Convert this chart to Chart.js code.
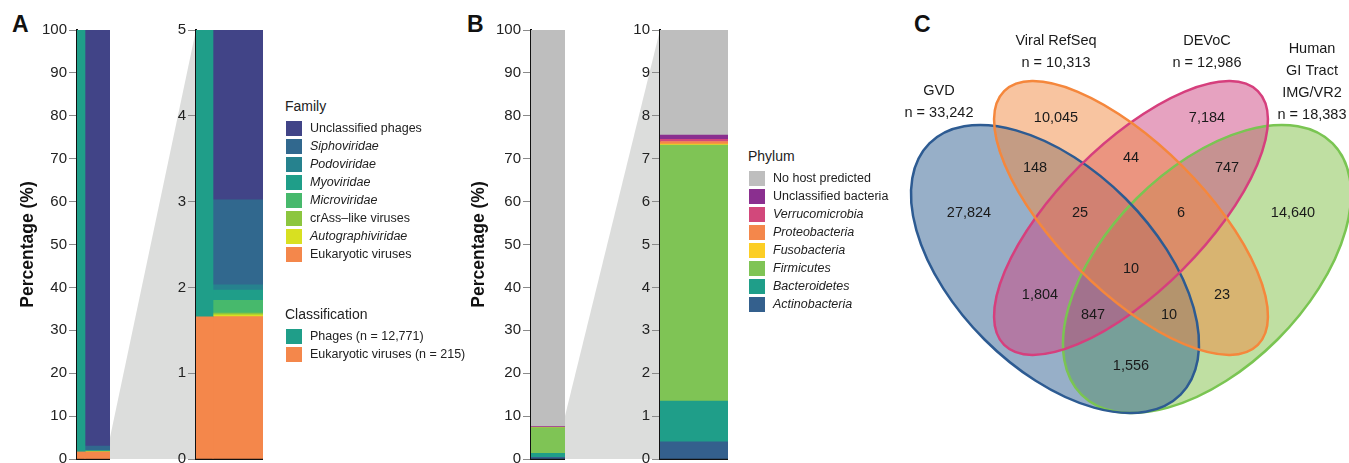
<!DOCTYPE html>
<html>
<head>
<meta charset="utf-8">
<script src="https://cdn.jsdelivr.net/npm/chart.js@4.4.0/dist/chart.umd.min.js"></script>
<style>
  html, body { margin: 0; padding: 0; background: #fff; overflow: hidden; }
  body { width: 1349px; height: 463px; position: relative; font-family: "Liberation Sans", Arial, sans-serif; color: #222; }
  canvas { position: absolute; top: 0; }
  .tag { position: absolute; top: 12px; font-size: 23px; font-weight: bold; line-height: 24px; color: #111; }
  .lh { position: absolute; font-size: 14px; line-height: 20px; }
  .li { position: absolute; font-size: 12.5px; line-height: 18px; white-space: nowrap; }
  .sw { position: absolute; width: 16px; height: 15px; }
</style>
</head>
<body>
<div class="tag" style="left:12px">A</div>
<div class="tag" style="left:467px">B</div>
<div class="tag" style="left:914px">C</div>

<canvas id="aFull" width="110" height="480" style="left:0px"></canvas>
<canvas id="aZoom" width="153" height="480" style="left:110px"></canvas>
<canvas id="bFull" width="115" height="480" style="left:450px"></canvas>
<canvas id="bZoom" width="163" height="480" style="left:565px"></canvas>
<canvas id="venn" width="469" height="463" style="left:880px"></canvas>
<div id="legends"></div>

<script>
// ---- data ----
const familyNames = ['Eukaryotic viruses', 'Autographiviridae', 'crAss\u2013like viruses', 'Microviridae',
                     'Myoviridae', 'Podoviridae', 'Siphoviridae', 'Unclassified phages'];
const familyPct = [1.66, 0.02, 0.02, 0.15, 0.12, 0.06, 0.99, 96.98];
const familyColors = ['#f4874b', '#d8e021', '#8cc63f', '#47b96c', '#1f9e89', '#26828e', '#31688e', '#414487'];
const familyItalic = [false, true, false, true, true, true, true, false];

const classNames = ['Eukaryotic viruses', 'Phages'];
const classCounts = [215, 12771];
const classColors = ['#f4874b', '#1f9e89'];

const phylumNames = ['Actinobacteria', 'Bacteroidetes', 'Firmicutes', 'Fusobacteria',
                     'Proteobacteria', 'Verrucomicrobia', 'Unclassified bacteria', 'No host predicted'];
const phylumPct = [0.40, 0.95, 5.97, 0.02, 0.06, 0.05, 0.10, 92.45];
const phylumColors = ['#34608d', '#1f9e89', '#7fc455', '#fcce25', '#f4874b', '#d2487b', '#8a2f8f', '#bebebe'];
const phylumItalic = [true, true, true, true, true, true, false, false];

const fullTicks = [0, 100, 10];   // min, max, step
const zoomTicksA = [0, 5, 1];
const zoomTicksB = [0, 10, 1];

const vennSetLines = [['GVD'], ['Viral RefSeq'], ['DEVoC'], ['Human', 'GI Tract', 'IMG/VR2']];
const vennSetSizes = [33242, 10313, 12986, 18383];
const vennCounts = [10045, 7184, 148, 44, 747, 27824, 25, 6, 14640, 10, 1804, 23, 847, 10, 1556];

// ---- layout ----
const FONT = '"Liberation Sans", Arial, sans-serif';
const classTotal = classCounts.reduce((s, v) => s + v, 0);
const classPct = classCounts.map(v => v / classTotal * 100);

// venn geometry (units = px around the centre, y downward)
const vennEllipses = [[-76, 0, 177.6, 99.7, 45], [0, -51, 179.4, 73, 45], [0, -51, 179.4, 73, -45], [76, 0, 177.6, 99.7, -45]];
const vennFill = ['rgba(47,95,145,0.5)', 'rgba(241,137,65,0.5)', 'rgba(205,69,129,0.5)', 'rgba(127,191,69,0.5)'];
const vennStroke = ['#2d5b92', '#f5873c', '#d63f7d', '#7ac552'];
const vennOrder = [3, 0, 2, 1];
const vennRegionPos = [[-75, -151], [76, -151], [-96, -101], [0, -111], [96, -101], [-162, -56], [-51, -56],
                       [50, -56], [162, -56], [0, 0], [-91, 26], [91, 26], [-38, 46], [38, 46], [0, 97]];
const vennSetPos = [[-192, -178], [-75, -228], [76, -228], [181, -220]];

Chart.defaults.font.family = FONT;
Chart.defaults.color = '#222';

function yAxis(t, width, title) {
  return {
    type: 'linear', min: t[0], max: t[1], stacked: true,
    afterFit: s => { s.width = width; },
    ticks: { stepSize: t[2], padding: 2, font: { size: 15 }, color: '#222' },
    grid: { drawOnChartArea: false, drawTicks: true, tickLength: 8, color: '#8a8a8a' },
    border: { color: '#111', width: 2 },
    title: title ? { display: true, text: title, color: '#111', font: { size: 17.5, weight: 'bold' }, padding: { top: 4, bottom: 4 } }
                 : { display: false }
  };
}

function xAxis(w) {
  return { type: 'linear', min: 0, max: w, offset: false, ticks: { display: false },
           grid: { display: false, drawTicks: false }, border: { color: '#111', width: 2 } };
}

function stack(names, values, colors, x, thick, key) {
  return names.map((n, i) => ({
    label: n, data: [{ x: x, y: values[i] }], backgroundColor: colors[i],
    barThickness: thick, grouped: false, stack: key, borderWidth: 0
  }));
}

function barChart(id, datasets, xw, y, padLeft) {
  return new Chart(document.getElementById(id), {
    type: 'bar',
    data: { datasets: datasets },
    options: {
      responsive: false, animation: false, events: [],
      layout: { padding: { left: padLeft, right: 0, top: 30, bottom: 21 } },
      plugins: { legend: { display: false }, tooltip: { enabled: false } },
      scales: { x: xAxis(xw), y: y }
    },
    plugins: y.fan ? [y.fan] : []
  });
}

// grey wedge from the full bar's top-of-zoom value to the zoomed axis
function fan(src, value) {
  return {
    id: 'fan',
    beforeDraw(chart) {
      const ctx = chart.ctx, a = chart.chartArea, ys = chart.scales.y;
      ctx.save();
      ctx.fillStyle = '#dcdddc';
      ctx.beginPath();
      ctx.moveTo(0, src.scales.y.getPixelForValue(value));
      ctx.lineTo(a.left, ys.getPixelForValue(value));
      ctx.lineTo(a.left, ys.getPixelForValue(0));
      ctx.lineTo(0, ys.getPixelForValue(0));
      ctx.closePath();
      ctx.fill();
      ctx.restore();
    }
  };
}

function zoomChart(id, datasets, xw, ticks, yw, src) {
  return new Chart(document.getElementById(id), {
    type: 'bar',
    data: { datasets: datasets },
    options: {
      responsive: false, animation: false, events: [],
      layout: { padding: { left: 0, right: 0, top: 30, bottom: 21 } },
      plugins: { legend: { display: false }, tooltip: { enabled: false } },
      scales: { x: xAxis(xw), y: yAxis(ticks, yw) }
    },
    plugins: [fan(src, ticks[1])]
  });
}

// panel A
const aFull = barChart('aFull',
  stack(classNames, classPct, classColors, 4, 8, 'cls').concat(stack(familyNames, familyPct, familyColors, 20.5, 25, 'fam')),
  33, yAxis(fullTicks, 63, 'Percentage (%)'), 14);
zoomChart('aZoom',
  stack(classNames, classPct, classColors, 8.5, 17, 'cls').concat(stack(familyNames, familyPct, familyColors, 42, 50, 'fam')),
  67, zoomTicksA, 86, aFull);

// panel B
const bFull = barChart('bFull', stack(phylumNames, phylumPct, phylumColors, 17, 34, 'ph'),
  34, yAxis(fullTicks, 66, 'Percentage (%)'), 15);
zoomChart('bZoom', stack(phylumNames, phylumPct, phylumColors, 34, 68, 'ph'), 68, zoomTicksB, 95, bFull);

// legends
const legendsEl = document.getElementById('legends');
function legend(x, y, title, names, colors, italic) {
  const h = document.createElement('div');
  h.className = 'lh'; h.textContent = title;
  h.style.left = (x - 1) + 'px'; h.style.top = (y - 10) + 'px';
  legendsEl.appendChild(h);
  for (let k = 0; k < names.length; k++) {
    const i = names.length - 1 - k;
    const cy = y + 22 + k * 18;
    const s = document.createElement('div');
    s.className = 'sw'; s.style.background = colors[i];
    s.style.left = x + 'px'; s.style.top = (cy - 7.5) + 'px';
    legendsEl.appendChild(s);
    const t = document.createElement('div');
    t.className = 'li'; t.textContent = names[i];
    if (italic[i]) t.style.fontStyle = 'italic';
    t.style.left = (x + 24) + 'px'; t.style.top = (cy - 9) + 'px';
    legendsEl.appendChild(t);
  }
}
legend(286, 106, 'Family', familyNames, familyColors, familyItalic);
legend(286, 314, 'Classification',
  classNames.map((n, i) => n + ' (n = ' + classCounts[i].toLocaleString('en-US') + ')'), classColors, [false, false]);
legend(749, 156, 'Phylum', phylumNames, phylumColors, phylumItalic);

// panel C: venn
const vennPlugin = {
  id: 'venn',
  beforeDatasetsDraw(chart) {
    const { ctx, scales: { x, y } } = chart;
    const ux = Math.abs(x.getPixelForValue(1) - x.getPixelForValue(0));
    const uy = Math.abs(y.getPixelForValue(1) - y.getPixelForValue(0));
    const path = e => {
      ctx.beginPath();
      ctx.ellipse(x.getPixelForValue(e[0]), y.getPixelForValue(e[1]), e[2] * ux, e[3] * uy, e[4] * Math.PI / 180, 0, 2 * Math.PI);
    };
    ctx.save();
    vennOrder.forEach(i => { path(vennEllipses[i]); ctx.fillStyle = vennFill[i]; ctx.fill(); });
    ctx.lineWidth = 2.5;
    vennOrder.forEach(i => { path(vennEllipses[i]); ctx.strokeStyle = vennStroke[i]; ctx.stroke(); });
    ctx.restore();
  },
  afterDatasetsDraw(chart) {
    const { ctx, scales: { x, y } } = chart;
    ctx.save();
    ctx.font = '14.5px ' + FONT;
    ctx.fillStyle = '#1a1a1a';
    ctx.textAlign = 'center';
    ctx.textBaseline = 'middle';
    chart.getDatasetMeta(0).data.forEach((pt, i) => {
      ctx.fillText(vennCounts[i].toLocaleString('en-US'), pt.x, pt.y);
    });
    vennSetLines.forEach((lines, i) => {
      const all = lines.concat(['n = ' + vennSetSizes[i].toLocaleString('en-US')]);
      all.forEach((s, k) => {
        ctx.fillText(s, x.getPixelForValue(vennSetPos[i][0]), y.getPixelForValue(vennSetPos[i][1] + k * 22));
      });
    });
    ctx.restore();
  }
};

new Chart(document.getElementById('venn'), {
  type: 'scatter',
  data: { datasets: [{ data: vennRegionPos.map(p => ({ x: p[0], y: p[1] })), pointRadius: 0 }] },
  options: {
    responsive: false, animation: false, events: [],
    layout: { padding: 0 },
    plugins: { legend: { display: false }, tooltip: { enabled: false } },
    scales: {
      x: { type: 'linear', min: -251, max: 218, display: false },
      y: { type: 'linear', min: -269, max: 194, reverse: true, display: false }
    }
  },
  plugins: [vennPlugin]
});
</script>
</body>
</html>
